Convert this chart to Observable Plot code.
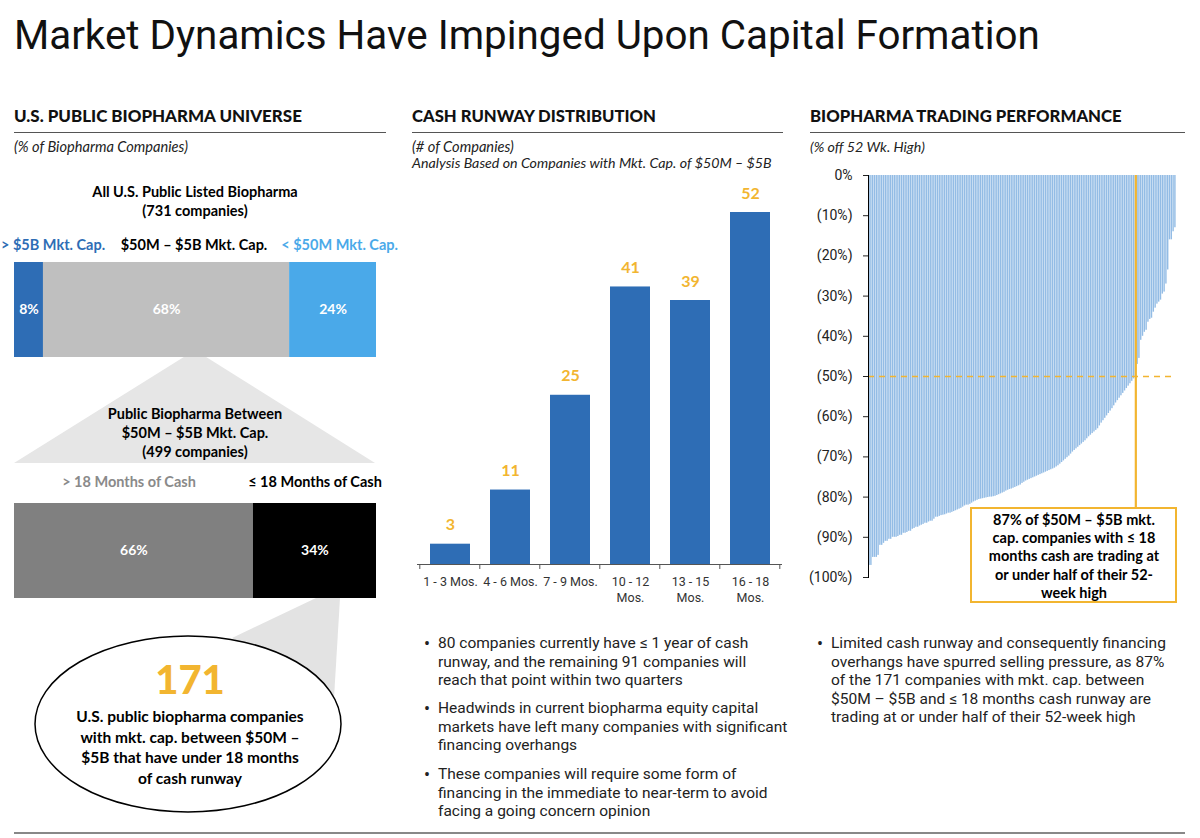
<!DOCTYPE html>
<html><head><meta charset="utf-8">
<script src="https://cdn.jsdelivr.net/npm/d3@7"></script>
<script src="https://cdn.jsdelivr.net/npm/@observablehq/plot@0.6"></script>
<style>
body{margin:0;background:#fff;}
#root{position:relative;width:1200px;height:838px;overflow:hidden;font-family:Lato,"Open Sans",sans-serif;color:#000;}
.abs{position:absolute;white-space:nowrap;line-height:1;}
.rule{position:absolute;height:1px;background:#555;}
.plot{position:absolute;}
</style></head>
<body><div id="root"></div>
<script>
// ---------------- DATA ----------------
const universeSegments = ["> $5B Mkt. Cap.", "$50M – $5B Mkt. Cap.", "< $50M Mkt. Cap."];
const universeShares = [8, 68, 24];
const cashSegments = ["> 18 Months of Cash", "≤ 18 Months of Cash"];
const cashShares = [66, 34];
const runwayBuckets = ["1 - 3 Mos.", "4 - 6 Mos.", "7 - 9 Mos.", "10 - 12 Mos.", "13 - 15 Mos.", "16 - 18 Mos."];
const runwayCounts = [3, 11, 25, 41, 39, 52];
const tradingPerf = [
 -97,-97,-95,-95,-95,-94.5,-92,-92,-91.5,-91,-91,-90.5,-90.5,-90,-90,-90,-89.8,-89.5,-89.5,-89,
 -89,-88.8,-88.5,-88.5,-88,-87.8,-87.5,-87.5,-87.2,-87,-86.8,-86.5,-86.5,-86.2,-86,-86,-85.5,-85,-85,-84.8,
 -84.6,-84.5,-84.4,-84.2,-84,-84,-83.8,-83.6,-83.4,-83.2,-83,-82.8,-82.5,-82.2,-82,-82,-81.8,-81.5,-81.2,-81,
 -80.8,-80.6,-80.5,-80.4,-80.3,-80.2,-80.1,-80,-80,-79.9,-79.8,-79.6,-79.4,-79.2,-79,-78.8,-78.5,-78.3,-78.1,-78,
 -77.8,-77.6,-77.4,-77.2,-77,-76.6,-76.3,-76,-75.8,-75.6,-75.4,-75.2,-75,-74.8,-74.6,-74.4,-74.2,-74,-73.8,-73.6,
 -73.4,-73.2,-73,-72.8,-72.5,-72.2,-71.8,-71.4,-71,-70.6,-70.2,-69.8,-69.3,-68.8,-68.4,-68,-67.6,-67.2,-66.8,-66.4,
 -66,-65.5,-65,-64.6,-64.2,-63.8,-63.4,-63,-62.3,-61.6,-61,-60.4,-59.8,-59.2,-58.6,-58,-57.3,-56.6,-56,-55.4,
 -54.8,-54.2,-53.6,-53,-52.4,-51.8,-51.2,-50.6,-50,-47,-45.5,-41,-40,-39,-38.5,-36.5,-35.8,-35.5,-34,-33,
 -32,-31.5,-31,-29.5,-29,-27,-23.5,-16,-16,-14,-13
];
const yTicks = [0, -10, -20, -30, -40, -50, -60, -70, -80, -90, -100];
const calloutTopValue = -82.6;

// ---------------- STYLE ----------------
const BLUE = "#2e6db5", LBLUE = "#4aa9e9", GRAY = "#bfbfbf", DGRAY = "#808080", YEL = "#f2b530", BARLB = "#93bce5";
const root = document.getElementById("root");

function T(txt, x, y, o = {}) {
  const d = document.createElement("div");
  d.className = "abs";
  d.textContent = txt;
  Object.assign(d.style, {
    left: x + "px", top: y + "px", fontSize: (o.size || 14) + "px", fontWeight: o.weight || 400,
    color: o.color || "#000", fontStyle: o.style || "normal", fontFamily: o.family || "inherit",
    letterSpacing: o.ls || "normal"
  });
  const tx = o.anchor === "middle" ? "-50%" : o.anchor === "end" ? "-100%" : "0";
  d.style.transform = `translate(${tx},-55%)`;
  root.appendChild(d);
  return d;
}
function fit(el, w) {
  const cur = el.getBoundingClientRect().width;
  const fs = parseFloat(el.style.fontSize);
  el.style.fontSize = (fs * w / cur) + "px";
}
function rule(x1, x2, y, color = "#555", h = 1) {
  const d = document.createElement("div");
  d.className = "rule";
  Object.assign(d.style, {left: x1 + "px", top: y + "px", width: (x2 - x1) + "px", height: h + "px", background: color});
  root.appendChild(d);
}
function place(node, x, y) {
  node.classList.add("plot");
  node.style.left = x + "px"; node.style.top = y + "px";
  root.appendChild(node);
}

// Title
const title = T("Market Dynamics Have Impinged Upon Capital Formation", 14, 38, {size: 42, weight: 400, color: "#111", family: "Roboto, sans-serif"});
fit(title, 1026);

// Section headers
const h1 = T("U.S. PUBLIC BIOPHARMA UNIVERSE", 14, 117, {size: 15.5, weight: 900, color: "#111"}); fit(h1, 288);
const h2 = T("CASH RUNWAY DISTRIBUTION", 412, 117, {size: 15.5, weight: 900, color: "#111"}); fit(h2, 244);
const h3 = T("BIOPHARMA TRADING PERFORMANCE", 810, 117, {size: 15.5, weight: 900, color: "#111"}); fit(h3, 312);
rule(14, 386, 132); rule(412, 783, 132); rule(810, 1185, 132);
const s1 = T("(% of Biopharma Companies)", 14, 148, {size: 13, style: "italic", color: "#222"}); fit(s1, 174);
const s2 = T("(# of Companies)", 412, 148, {size: 13, style: "italic", color: "#222"}); fit(s2, 102);
const s3 = T("Analysis Based on Companies with Mkt. Cap. of $50M – $5B", 412, 164, {size: 13, style: "italic", color: "#222"}); fit(s3, 360);
const s4 = T("(% off 52 Wk. High)", 810, 148, {size: 13, style: "italic", color: "#222"}); fit(s4, 115);

// ---------------- LEFT PANEL ----------------
const deco = d3.create("svg").attr("width", 400).attr("height", 838)
  .style("position", "absolute").style("left", "0px").style("top", "0px");
deco.append("polygon").attr("points", "195,350 14,463 375,463").attr("fill", "#e6e6e6");
deco.append("polygon").attr("points", "316,598 340,598 334,698 232,638").attr("fill", "#e3e3e3");
deco.append("ellipse").attr("cx", 188).attr("cy", 724).attr("rx", 153).attr("ry", 88)
  .attr("fill", "#fff").attr("stroke", "#000").attr("stroke-width", 1.5);
root.appendChild(deco.node());

function stackRows(labels, vals) {
  let acc = 0;
  return labels.map((l, i) => { const r = {label: l, value: vals[i], x1: acc, x2: acc + vals[i]}; acc += vals[i]; return r; });
}
function stackBar(labels, vals, colors) {
  const rows = stackRows(labels, vals);
  return Plot.plot({
    width: 400, height: 95, marginTop: 0, marginBottom: 0, marginLeft: 14, marginRight: 24,
    x: {domain: [0, 100], axis: null}, y: {axis: null},
    color: {domain: labels, range: colors},
    style: {fontFamily: "Lato, sans-serif", background: "transparent", overflow: "visible"},
    marks: [
      Plot.rectX(rows, {x1: "x1", x2: "x2", fill: "label"}),
      Plot.text(rows, {x: d => (d.x1 + d.x2) / 2, text: d => d.value + "%", fill: "white", fontWeight: "bold", fontSize: 14})
    ]
  });
}
T("All U.S. Public Listed Biopharma", 195, 193, {size: 14.5, weight: 700, anchor: "middle"});
T("(731 companies)", 195, 212, {size: 14.5, weight: 700, anchor: "middle"});
T(universeSegments[0], 1, 246, {size: 14.5, weight: 700, color: BLUE});
T(universeSegments[1], 194, 246, {size: 14.5, weight: 700, anchor: "middle"});
T(universeSegments[2], 398, 246, {size: 14.5, weight: 700, anchor: "end", color: LBLUE});
place(stackBar(universeSegments, universeShares, [BLUE, GRAY, LBLUE]), 0, 262);

T("Public Biopharma Between", 195, 415, {size: 14.5, weight: 700, anchor: "middle"});
T("$50M – $5B Mkt. Cap.", 195, 434, {size: 14.5, weight: 700, anchor: "middle"});
T("(499 companies)", 195, 453, {size: 14.5, weight: 700, anchor: "middle"});
T(cashSegments[0], 129, 483, {size: 14.5, weight: 700, anchor: "middle", color: "#8a8a8a"});
T(cashSegments[1], 315, 483, {size: 14.5, weight: 700, anchor: "middle"});
place(stackBar(cashSegments, cashShares, [DGRAY, "#000"]), 0, 503);

T("171", 190, 681, {size: 40, weight: 900, anchor: "middle", color: YEL});
["U.S. public biopharma companies", "with mkt. cap. between $50M –", "$5B that have under 18 months", "of cash runway"]
  .forEach((s, i) => T(s, 190, 718 + i * 20.6, {size: 15.5, weight: 700, anchor: "middle"}));

// ---------------- MIDDLE PANEL ----------------
const runway = runwayBuckets.map((b, i) => ({bucket: b, count: runwayCounts[i]}));
const PI = 0.34, PO = 0.17;
function boundaryTicks(index, scales) {
  const x = scales.x, y = scales.y;
  const dom = runwayBuckets;
  const step = x(dom[1]) - x(dom[0]);
  const gap = step * PI / 2;
  const xs = dom.map(c => x(c) - gap).concat([x(dom[dom.length - 1]) + step - gap]);
  const g = d3.create("svg:g");
  xs.forEach(v => g.append("line").attr("x1", v).attr("x2", v).attr("y1", y(0)).attr("y2", y(0) + 5)
    .attr("stroke", "#555").attr("stroke-width", 1));
  return g.node();
}
const mid = Plot.plot({
  width: 400, height: 444, marginTop: 42, marginBottom: 50, marginLeft: 17, marginRight: 18,
  x: {domain: runwayBuckets, paddingInner: PI, paddingOuter: PO, label: null},
  y: {domain: [0, 52], axis: null},
  style: {fontFamily: "Roboto, sans-serif", fontSize: "12.5px", color: "#333", background: "transparent", overflow: "visible"},
  marks: [
    Plot.barY(runway, {x: "bucket", y: "count", fill: BLUE}),
    Plot.text(runway, {x: "bucket", y: "count", text: "count", dy: -19, fill: YEL, fontWeight: "bold", fontSize: 16, fontFamily: "Lato, sans-serif"}),
    Plot.ruleY([0], {stroke: "#555"}),
    boundaryTicks,
    Plot.axisX({tickSize: 0, tickPadding: 10, label: null, fontSize: 12.5, lineHeight: 1.3,
      tickFormat: d => d.length > 11 ? d.replace(" Mos.", "\nMos.") : d})
  ]
});
place(mid, 400, 170);

// bullets
const bulletsMid = [
  ["80 companies currently have ≤ 1 year of cash", "runway, and the remaining 91 companies will", "reach that point within two quarters"],
  ["Headwinds in current biopharma equity capital", "markets have left many companies with significant", "financing overhangs"],
  ["These companies will require some form of", "financing in the immediate to near-term to avoid", "facing a going concern opinion"]
];
const bulletsRight = [
  ["Limited cash runway and consequently financing", "overhangs have spurred selling pressure, as 87%", "of the 171 companies with mkt. cap. between", "$50M – $5B and ≤ 18 months cash runway are", "trading at or under half of their 52-week high"]
];
const BF = "Roboto, sans-serif";
const probe = T(bulletsRight[0][0], 0, -100, {size: 14.5, family: BF});
fit(probe, 335);
const bsize = parseFloat(probe.style.fontSize);
probe.remove();
const starts = [645, 710, 776];
bulletsMid.forEach((lines, g) => {
  T("•", 424, starts[g], {size: bsize * 1.15, family: BF, color: "#222"});
  lines.forEach((s, i) => T(s, 438, starts[g] + i * 18.5, {size: bsize, family: BF, color: "#222"}));
});
T("•", 817, 645, {size: bsize * 1.15, family: BF, color: "#222"});
bulletsRight[0].forEach((s, i) => T(s, 831, 645 + i * 18.6, {size: bsize, family: BF, color: "#222"}));

// ---------------- RIGHT PANEL ----------------
const idx = d3.range(tradingPerf.length);
const cutIdx = tradingPerf.filter(v => v <= -50).length - 1;
const right = Plot.plot({
  width: 390, height: 422, marginTop: 10, marginBottom: 10, marginLeft: 68, marginRight: 14,
  x: {domain: idx, axis: null, padding: 0.22},
  y: {domain: [-100, 0]},
  style: {fontFamily: "Roboto, sans-serif", fontSize: "14px", color: "#222", background: "transparent", overflow: "visible"},
  marks: [
    Plot.barY(idx, {x: d => d, y1: 0, y2: i => tradingPerf[i], fill: BARLB}),
    Plot.ruleY([-50], {stroke: YEL, strokeDasharray: "6,5", strokeWidth: 1.6}),
    Plot.ruleX([cutIdx], {y1: 0, y2: calloutTopValue, stroke: YEL, strokeWidth: 2.2}),
    Plot.axisY(yTicks, {tickSize: 5, tickPadding: 11, label: null, fontSize: 14,
      tickFormat: d => d === 0 ? "0%" : `(${-d}%)`}),
    Plot.frame({anchor: "left", stroke: "#000"})
  ]
});
place(right, 800, 165);

const box = document.createElement("div");
Object.assign(box.style, {position: "absolute", left: "970px", top: "507px", width: "207px", height: "96px",
  border: "2px solid " + YEL, background: "#fff", boxSizing: "border-box"});
root.appendChild(box);
["87% of $50M – $5B mkt.", "cap. companies with ≤ 18", "months cash are trading at", "or under half of their 52-", "week high"]
  .forEach((s, i) => T(s, 1074, 521 + i * 18.2, {size: 14.5, weight: 700, anchor: "middle"}));

// bottom rule
rule(14, 1185, 832, "#888", 2);
</script>
</body></html>
